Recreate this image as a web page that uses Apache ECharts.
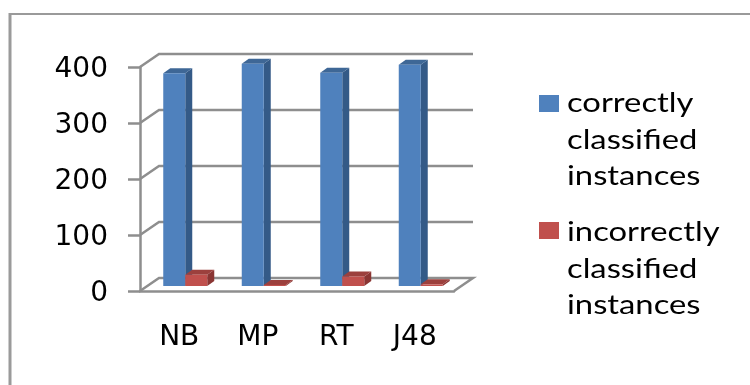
<!DOCTYPE html>
<html>
<head>
<meta charset="utf-8">
<style>
  html, body { margin: 0; padding: 0; background: #fff; }
  #chart { width: 750px; height: 385px; }
</style>
<script src="https://cdn.jsdelivr.net/npm/echarts@6/dist/echarts.min.js"></script>
</head>
<body>
<div id="chart"></div>
<script>
const categories = ['NB', 'MP', 'RT', 'J48'];
const correctlyClassified = [380, 397, 381, 395];
const incorrectlyClassified = [20, 2, 17, 3];
const yTicks = [0, 100, 200, 300, 400];
const legendLines = [
  ['correctly', 'classified', 'instances'],
  ['incorrectly', 'classified', 'instances']
];

const axisFont = 'DejaVu Sans';
const legendFont = 'Lato';
const wallColor = '#8e8e8e';
const blue = { front: '#4f81bd', side: '#345a87', top: '#3e6796' };
const red = { front: '#c0504d', side: '#8a3533', top: '#9c403d' };

// depth of the plot box and of the bars, in pixels
const wallDx = 19;
const wallDy = -13;
const barDx = 7;
const barDy = -5;
const floorDy = -5;
const barWidth = 22;

function wallItem(params, api) {
  const cs = params.coordSys;
  const y = api.coord([0, api.value(1)])[1];
  const left = cs.x;
  const right = cs.x + cs.width;
  const points = [[left, y], [left + wallDx, y + wallDy], [right + wallDx, y + wallDy]];
  if (api.value(1) === 0) {
    points.push([right, y]);
  }
  return {
    type: 'polyline',
    shape: { points: points },
    style: { fill: 'none', stroke: wallColor, lineWidth: 2.5 },
    silent: true
  };
}

// shift: offset of the bar's left edge from the category centre
function barItem(colors, shift) {
  return function (params, api) {
    const top = api.coord([api.value(0), api.value(1)]);
    const base = api.coord([api.value(0), 0]);
    const x0 = top[0] + shift;
    const x1 = x0 + barWidth;
    const y0 = base[1] + floorDy;
    const y1 = top[1] + floorDy;
    return {
      type: 'group',
      children: [
        {
          type: 'polygon',
          shape: { points: [[x1, y0], [x1 + barDx, y0 + barDy], [x1 + barDx, y1 + barDy], [x1, y1]] },
          style: { fill: colors.side }
        },
        {
          type: 'polygon',
          shape: { points: [[x0, y1], [x0 + barDx, y1 + barDy], [x1 + barDx, y1 + barDy], [x1, y1]] },
          style: { fill: colors.top }
        },
        {
          type: 'rect',
          shape: { x: x0, y: y1, width: barWidth, height: y0 - y1 },
          style: { fill: colors.front }
        }
      ]
    };
  };
}

function legendGraphic() {
  const elements = [];
  const colors = [blue.front, red.front];
  const swatchTops = [95, 222];
  const textMiddles = [104, 233];
  legendLines.forEach((lines, i) => {
    elements.push({
      type: 'rect',
      shape: { x: 539, y: swatchTops[i], width: 20, height: 17 },
      style: { fill: colors[i] }
    });
    lines.forEach((line, j) => {
      // the reference text is stretched sideways
      elements.push({
        type: 'text',
        x: 567,
        y: textMiddles[i] + j * 36.5,
        scaleX: 1.26,
        style: { text: line, font: '26px ' + legendFont, fill: '#000', verticalAlign: 'middle' }
      });
    });
  });
  return elements;
}

const chart = echarts.init(document.getElementById('chart'));
chart.setOption({
  animation: false,
  backgroundColor: '#fff',
  graphic: [
    { type: 'line', shape: { x1: 9, y1: 14, x2: 750, y2: 14 }, style: { stroke: '#9a9a9a', lineWidth: 2 } },
    { type: 'line', shape: { x1: 10, y1: 13, x2: 10, y2: 385 }, style: { stroke: '#9a9a9a', lineWidth: 3 } }
  ].concat(legendGraphic()),
  grid: { left: 140, right: 296, top: 67, bottom: 94 },
  xAxis: {
    type: 'category',
    data: categories,
    axisLine: { lineStyle: { color: wallColor, width: 2.5 } },
    axisTick: { length: 9, lineStyle: { color: wallColor, width: 2.5 } },
    axisLabel: { color: '#000', fontFamily: axisFont, fontSize: 28, margin: 33 }
  },
  yAxis: {
    type: 'value',
    min: 0,
    max: 400,
    interval: 100,
    axisLine: { show: true, lineStyle: { color: wallColor, width: 2.5 } },
    axisTick: { show: true, length: 12, lineStyle: { color: wallColor, width: 2.5 } },
    splitLine: { show: false },
    // small line box hung from the tick, so the digits sit a little below it
    axisLabel: { color: '#000', fontFamily: axisFont, fontSize: 28, margin: 32, verticalAlign: 'top', lineHeight: 5 }
  },
  series: [
    {
      type: 'custom',
      name: 'walls',
      renderItem: wallItem,
      data: yTicks.map(v => [0, v]),
      encode: { x: 0, y: 1 },
      clip: false,
      silent: true,
      z: 1
    },
    {
      type: 'custom',
      name: 'correctly classified instances',
      renderItem: barItem(blue, -16),
      data: correctlyClassified.map((v, i) => [i, v]),
      encode: { x: 0, y: 1 },
      clip: false,
      z: 2
    },
    {
      type: 'custom',
      name: 'incorrectly classified instances',
      renderItem: barItem(red, 6),
      data: incorrectlyClassified.map((v, i) => [i, v]),
      encode: { x: 0, y: 1 },
      clip: false,
      z: 3
    }
  ]
});
</script>
</body>
</html>
